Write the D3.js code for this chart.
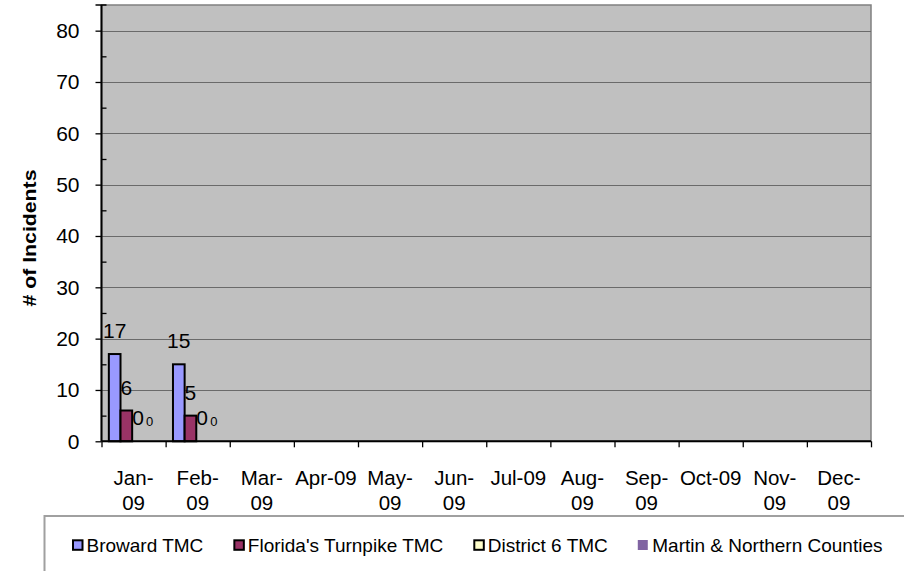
<!DOCTYPE html>
<html>
<head>
<meta charset="utf-8">
<script src="https://cdn.jsdelivr.net/npm/d3@7"></script>
<style>
  html, body { margin: 0; padding: 0; background: #fff; }
  svg { display: block; }
  text { font-family: "Liberation Sans", Arial, sans-serif; fill: #000; }
</style>
</head>
<body>
<svg id="chart" width="904" height="571"></svg>
<script>
// ---- data ----
const months = ["Jan-09","Feb-09","Mar-09","Apr-09","May-09","Jun-09","Jul-09","Aug-09","Sep-09","Oct-09","Nov-09","Dec-09"];
const tickLabels = ["Jan-\n09","Feb-\n09","Mar-\n09","Apr-09","May-\n09","Jun-\n09","Jul-09","Aug-\n09","Sep-\n09","Oct-09","Nov-\n09","Dec-\n09"];
const seriesNames = ["Broward TMC","Florida's Turnpike TMC","District 6 TMC","Martin & Northern Counties"];
const broward   = [17, 15, null, null, null, null, null, null, null, null, null, null];
const turnpike  = [6, 5, null, null, null, null, null, null, null, null, null, null];
const district6 = [0, 0, null, null, null, null, null, null, null, null, null, null];
const martin    = [0, 0, null, null, null, null, null, null, null, null, null, null];
const yTicks = [0, 10, 20, 30, 40, 50, 60, 70, 80];
const yMinorTicks = [5, 15, 25, 35, 45, 55, 65, 75];
const yTitle = "# of Incidents";

// ---- styles ----
const colors = ["#9999FF", "#993366", "#FFFFCC", "#8064A2"];
const strokes = ["#000", "#000", "#000", "none"];
const labelSizes = [21, 21, 21, 13];

const svg = d3.select("#chart");
const pLeft = 101.5, pRight = 871, pTop = 5, pBottom = 441.3;

const x0 = d3.scaleBand().domain(months).range([pLeft, pRight]).padding(0);
const x1 = d3.scaleBand().domain(seriesNames).range([0, x0.bandwidth()])
  .paddingInner(0).paddingOuter(0.75).align(0.42);
const y = d3.scaleLinear().domain([0, 85]).range([pBottom, pTop]);

// plot area
svg.append("rect")
  .attr("x", pLeft).attr("y", pTop)
  .attr("width", pRight - pLeft).attr("height", pBottom - pTop)
  .attr("fill", "#C0C0C0").attr("stroke", "#808080").attr("stroke-width", 1.5);

// gridlines
svg.append("g").selectAll("line").data(yTicks.filter(d => d > 0)).join("line")
  .attr("x1", pLeft).attr("x2", pRight)
  .attr("y1", d => Math.round(y(d)) + 0.5).attr("y2", d => Math.round(y(d)) + 0.5)
  .attr("stroke", "#6A6A6A").attr("stroke-width", 1);

// bars
const allSeries = [broward, turnpike, district6, martin];
const gBars = svg.append("g");
allSeries.forEach((vals, si) => {
  const pts = months.map((m, i) => ({ m, v: vals[i] })).filter(d => d.v !== null);
  gBars.selectAll(null).data(pts).join("rect")
    .attr("x", d => x0(d.m) + x1(seriesNames[si]))
    .attr("y", d => y(d.v))
    .attr("width", x1.bandwidth())
    .attr("height", d => y(0) - y(d.v))
    .attr("fill", colors[si])
    .attr("stroke", strokes[si])
    .attr("stroke-width", 2);
  gBars.selectAll(null).data(pts).join("text")
    .attr("x", d => x0(d.m) + x1(seriesNames[si]) + x1.bandwidth() / 2)
    .attr("y", d => y(d.v) - (si === 3 ? 15 : 16))
    .attr("text-anchor", "middle")
    .attr("font-size", labelSizes[si])
    .text(d => d.v);
});

// y axis major
const yAxis = d3.axisLeft(y).tickValues(yTicks).tickSize(6).tickPadding(16).tickFormat(d3.format("d"));
const gy = svg.append("g").attr("transform", `translate(${pLeft},0)`).call(yAxis);
gy.select(".domain").remove();
gy.selectAll(".tick line").attr("stroke", "#000").attr("stroke-width", 1.3);
gy.selectAll(".tick text").attr("font-size", 21).attr("font-family", "Liberation Sans, Arial, sans-serif").attr("fill", "#000");

// y axis minor (inside)
const yMinor = d3.axisRight(y).tickValues(yMinorTicks).tickSize(5).tickFormat("");
const gym = svg.append("g").attr("transform", `translate(${pLeft},0)`).call(yMinor);
gym.select(".domain").remove();
gym.selectAll(".tick line").attr("stroke", "#000").attr("stroke-width", 1.3);

// axis lines
svg.append("line").attr("x1", pLeft).attr("x2", pLeft).attr("y1", pTop).attr("y2", pBottom)
  .attr("stroke", "#000").attr("stroke-width", 2);
svg.append("line").attr("x1", pLeft - 6).attr("x2", pLeft + 5).attr("y1", pTop).attr("y2", pTop)
  .attr("stroke", "#000").attr("stroke-width", 1.5);

// x axis ticks at band boundaries
const xb = d3.scaleLinear().domain([0, months.length]).range([pLeft, pRight]);
const xAxis = d3.axisBottom(xb).tickValues(d3.range(months.length + 1)).tickSize(6).tickFormat("");
const gx = svg.append("g").attr("transform", `translate(0,${pBottom})`).call(xAxis);
gx.select(".domain").remove();
gx.selectAll(".tick line").attr("stroke", "#000").attr("stroke-width", 1.3);
svg.append("line").attr("x1", pLeft).attr("x2", pRight).attr("y1", pBottom).attr("y2", pBottom)
  .attr("stroke", "#000").attr("stroke-width", 2);

// x tick labels (wrapped)
const gxl = svg.append("g");
months.forEach((m, i) => {
  const t = gxl.append("text")
    .attr("x", x0(m) + x0.bandwidth() / 2)
    .attr("y", 484.5)
    .attr("text-anchor", "middle")
    .attr("font-size", 20.5);
  tickLabels[i].split("\n").forEach((ln, li) => {
    t.append("tspan").attr("x", x0(m) + x0.bandwidth() / 2).attr("dy", li === 0 ? 0 : 25).text(ln);
  });
});

// y title
svg.append("text")
  .attr("transform", "translate(36,238) rotate(-90)")
  .attr("text-anchor", "middle")
  .attr("font-size", 18)
  .attr("font-weight", "bold")
  .attr("textLength", 137)
  .attr("lengthAdjust", "spacingAndGlyphs")
  .text(yTitle);

// legend
svg.append("rect").attr("x", 44.5).attr("y", 516).attr("width", 900).attr("height", 100)
  .attr("fill", "#fff").attr("stroke", "#A0A0A0").attr("stroke-width", 2);
let lx = 72;
seriesNames.forEach((name, si) => {
  const g = svg.append("g");
  if (strokes[si] === "none") {
    g.append("rect").attr("x", lx).attr("y", 540).attr("width", 10).attr("height", 10).attr("fill", colors[si]);
  } else {
    g.append("rect").attr("x", lx + 1).attr("y", 540.3).attr("width", 9.5).attr("height", 9.5)
      .attr("fill", colors[si]).attr("stroke", "#000").attr("stroke-width", 2);
  }
  const t = g.append("text").attr("x", lx + 14.5).attr("y", 552).attr("font-size", 19).text(name);
  lx = lx + 14.5 + t.node().getComputedTextLength() + 30;
});
</script>
</body>
</html>
